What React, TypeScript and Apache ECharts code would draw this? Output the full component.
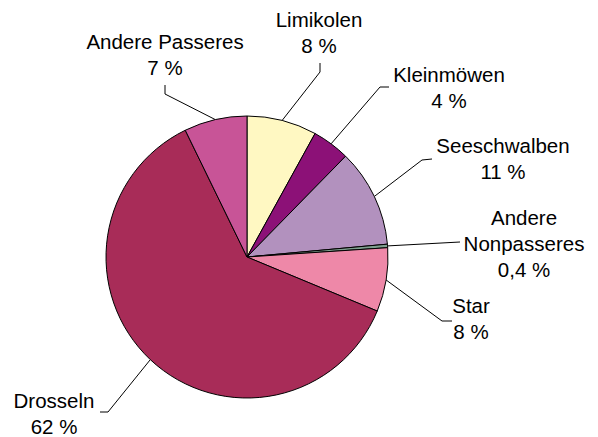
import React, { useEffect, useRef } from "react";
import * as echarts from "echarts";

const categories = [
  "Limikolen",
  "Kleinmöwen",
  "Seeschwalben",
  "Andere Nonpasseres",
  "Star",
  "Drosseln",
  "Andere Passeres",
];
const shares = [8.0, 4.3, 11.2, 0.4, 7.3, 61.4, 7.2];
const percentLabels = ["8 %", "4 %", "11 %", "0,4 %", "8 %", "62 %", "7 %"];
const colors = ["#FFF8C2", "#8C1177", "#B291BE", "#7FA08F", "#EE88A8", "#A82C58", "#C85497"];

// label block centres and leader-line bends (layout only)
const labelPos: number[][] = [
  [319, 32],
  [449, 87],
  [503, 158],
  [524, 243],
  [471, 318],
  [54, 413],
  [165, 54],
];
const leaderPts: number[][][] = [
  [[320, 72], [320, 63]],
  [[380, 87], [389, 87]],
  [[422, 160], [432, 159]],
  [[460, 242], [460, 242]],
  [[442, 321], [452, 321]],
  [[108, 412], [100, 412]],
  [[165, 94], [165, 85]],
];

export default function App() {
  const ref = useRef<HTMLDivElement>(null);
  useEffect(() => {
    if (!ref.current) return;
    const chart = echarts.init(ref.current, null, { renderer: "svg" });
    chart.setOption({
      animation: false,
      backgroundColor: "#ffffff",
      series: [
        {
          type: "pie",
          center: [247, 257],
          radius: 141,
          startAngle: 90,
          clockwise: true,
          avoidLabelOverlap: false,
          data: categories.map((c, i) => ({
            name: c,
            value: shares[i],
            itemStyle: { color: colors[i] },
          })),
          itemStyle: { borderColor: "#000000", borderWidth: 1 },
          label: {
            show: true,
            position: "outside",
            fontFamily: "Liberation Sans, Arial, sans-serif",
            fontSize: 20.5,
            lineHeight: 26,
            color: "#000000",
            align: "center",
            formatter: (p: any) =>
              (p.name === "Andere Nonpasseres" ? "Andere\nNonpasseres" : p.name) +
              "\n" +
              percentLabels[p.dataIndex],
          },
          labelLine: {
            show: true,
            length: 10,
            length2: 10,
            lineStyle: { color: "#000000", width: 1 },
          },
          emphasis: { disabled: true },
          labelLayout: (params: any) => {
            const i = params.dataIndex;
            const p0 =
              params.labelLinePoints && params.labelLinePoints[0]
                ? params.labelLinePoints[0]
                : [247, 257];
            return {
              x: labelPos[i][0],
              y: labelPos[i][1],
              align: "center",
              verticalAlign: "middle",
              labelLinePoints: [p0, leaderPts[i][0], leaderPts[i][1]],
            };
          },
        },
      ],
    });
    return () => chart.dispose();
  }, []);
  return (
    <div
      ref={ref}
      style={{ position: "fixed", left: 0, top: 0, width: 598, height: 437 }}
    />
  );
}
